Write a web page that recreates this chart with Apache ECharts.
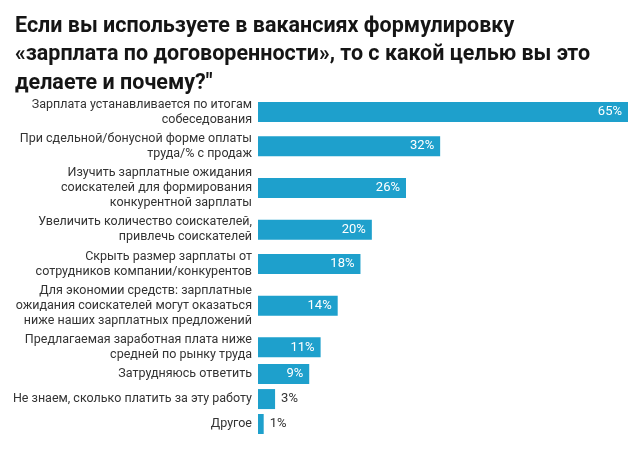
<!DOCTYPE html>
<html>
<head>
<meta charset="utf-8">
<script src="https://cdn.jsdelivr.net/npm/echarts@6/dist/echarts.min.js"></script>
<style>
  html, body { margin: 0; padding: 0; background: #fff; }
  #chart { width: 640px; height: 454px; }
</style>
</head>
<body>
<div id="chart"></div>
<script>
var titleLines = [
  'Если вы используете в вакансиях формулировку',
  '«зарплата по договоренности», то с какой целью вы это',
  'делаете и почему?"'
];

var categories = [
  'Зарплата устанавливается по итогам\nсобеседования',
  'При сдельной/бонусной форме оплаты\nтруда/% с продаж',
  'Изучить зарплатные ожидания\nсоискателей для формирования\nконкурентной зарплаты',
  'Увеличить количество соискателей,\nпривлечь соискателей',
  'Скрыть размер зарплаты от\nсотрудников компании/конкурентов',
  'Для экономии средств: зарплатные\nожидания соискателей могут оказаться\nниже наших зарплатных предложений',
  'Предлагаемая заработная плата ниже\nсредней по рынку труда',
  'Затрудняюсь ответить',
  'Не знаем, сколько платить за эту работу',
  'Другое'
];

var values = [65, 32, 26, 20, 18, 14, 11, 9, 3, 1];

var barColor = '#1ea0cc';
var lineH = 15;
var barH = 20;

// rows get taller when their label wraps onto several lines
var rowPos = [];
categories.forEach(function (c, i) {
  if (i === 0) { rowPos.push(0); return; }
  var a = categories[i - 1].split('\n').length;
  var b = c.split('\n').length;
  var gap = Math.max(25, (a + b) * lineH / 2 + 4.3);
  rowPos.push(rowPos[i - 1] + gap);
});

var chart = echarts.init(document.getElementById('chart'));

chart.setOption({
  animation: false,
  title: {
    text: titleLines.join('\n'),
    left: 10,
    top: 7,
    textStyle: {
      fontFamily: 'Roboto',
      fontWeight: 'bold',
      fontSize: 21.5,
      lineHeight: 28.5,
      color: '#151515'
    }
  },
  grid: { left: 258, right: 12, top: 102, bottom: 20 },
  xAxis: { type: 'value', min: 0, max: 65, show: false },
  yAxis: {
    type: 'value',
    inverse: true,
    min: -barH / 2,
    max: rowPos[rowPos.length - 1] + barH / 2,
    show: false
  },
  series: [{
    type: 'custom',
    data: values.map(function (v, i) { return [v, rowPos[i]]; }),
    renderItem: function (params, api) {
      var v = api.value(0);
      var start = api.coord([0, api.value(1)]);
      var end = api.coord([v, api.value(1)]);
      var w = end[0] - start[0];
      var inside = w > 30;
      return {
        type: 'group',
        children: [{
          type: 'rect',
          shape: { x: start[0], y: start[1] - barH / 2, width: w, height: barH },
          style: { fill: barColor }
        }, {
          type: 'text',
          style: {
            text: v + '%',
            x: inside ? end[0] - 6 : end[0] + 6,
            y: start[1],
            align: inside ? 'right' : 'left',
            verticalAlign: 'middle',
            fill: inside ? '#fff' : '#333',
            font: '13px Roboto'
          }
        }, {
          type: 'text',
          style: {
            text: categories[params.dataIndex],
            x: start[0] - 6,
            y: start[1],
            align: 'right',
            verticalAlign: 'middle',
            fill: '#333',
            font: '12.5px Roboto',
            lineHeight: lineH
          }
        }]
      };
    }
  }]
});
</script>
</body>
</html>
